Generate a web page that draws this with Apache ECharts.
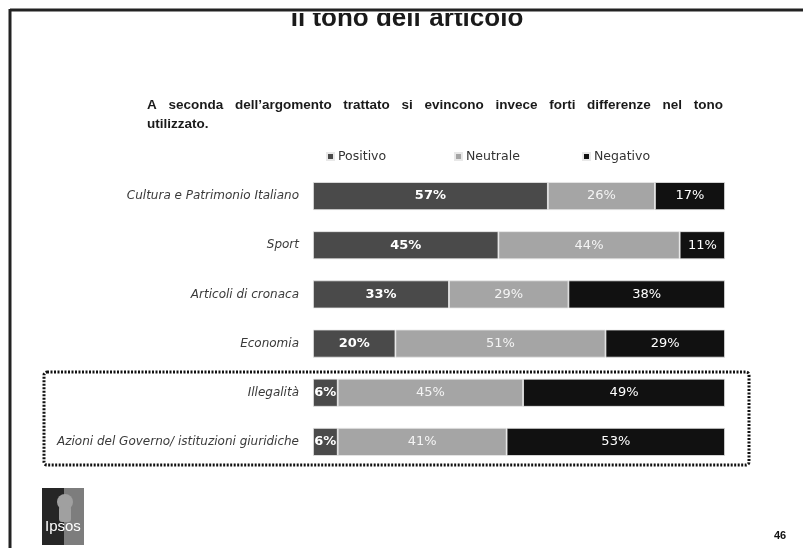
<!DOCTYPE html>
<html>
<head>
<meta charset="utf-8">
<script src="https://cdn.jsdelivr.net/npm/echarts@6/dist/echarts.min.js"></script>
<style>
  html, body { margin: 0; padding: 0; background: #fff; }
  #chart { width: 803px; height: 548px; }
</style>
</head>
<body>
<div id="chart"></div>
<script>
// Topics, listed top to bottom
const categories = [
  'Cultura e Patrimonio Italiano',
  'Sport',
  'Articoli di cronaca',
  'Economia',
  'Illegalità',
  'Azioni del Governo/ istituzioni giuridiche'
];
// Share of articles by tone (%)
const positivo = [57, 45, 33, 20, 6, 6];
const neutrale = [26, 44, 29, 51, 45, 41];
const negativo = [17, 11, 38, 29, 49, 53];

const seriesColors = ['#4a4a4a', '#a5a5a5', '#111111'];

const chart = echarts.init(document.getElementById('chart'));
const font = 'Liberation Sans, Arial, sans-serif';
const labelFont = 'DejaVu Sans, Verdana, sans-serif';

function legendAt(name, left) {
  return {
    data: [name],
    left: left,
    top: 150,
    icon: 'rect',
    itemWidth: 7,
    itemHeight: 7,
    itemGap: 4,
    padding: 0,
    textStyle: { fontFamily: labelFont, fontSize: 12.5, color: '#333', padding: [0, 0, 0, -1] }
  };
}

function barSeries(name, values, color, labelStyle) {
  return {
    name: name,
    type: 'bar',
    stack: 'tono',
    barWidth: 28,
    data: values,
    itemStyle: { color: color, borderColor: '#e8e8e8', borderWidth: 0.8 },
    label: Object.assign({
      show: true,
      position: 'inside',
      formatter: p => p.value + '%',
      fontFamily: labelFont,
      fontSize: 13,
      color: '#fff'
    }, labelStyle),
    emphasis: { disabled: true }
  };
}

// Justified first line of the lead paragraph
const leadFont = 'bold 13.5px ' + font;
const leadLine1 = 'A seconda dell’argomento trattato si evincono invece forti differenze nel tono';
const leadLine2 = 'utilizzato.';
const leadLeft = 147, leadWidth = 576;
const ctx = document.createElement('canvas').getContext('2d');
ctx.font = leadFont;
const words = leadLine1.split(' ');
const widths = words.map(w => ctx.measureText(w).width);
const gap = (leadWidth - widths.reduce((a, b) => a + b, 0)) / (words.length - 1);
const leadElems = [];
let xPos = leadLeft;
words.forEach((w, i) => {
  leadElems.push({ type: 'text', x: xPos, y: 98, style: { text: w, font: leadFont, fill: '#1a1a1a' } });
  xPos += widths[i] + gap;
});
leadElems.push({ type: 'text', x: leadLeft, y: 117, style: { text: leadLine2, font: leadFont, fill: '#1a1a1a' } });

chart.setOption({
  backgroundColor: '#fff',
  animation: false,
  legend: [
    legendAt('Positivo', 326),
    legendAt('Neutrale', 454),
    legendAt('Negativo', 582)
  ],
  grid: { left: 313, right: 78, top: 171.5, bottom: 81.5, containLabel: false },
  xAxis: {
    type: 'value', min: 0, max: 100,
    show: false
  },
  yAxis: {
    type: 'category',
    data: categories,
    inverse: true,
    axisLine: { show: false },
    axisTick: { show: false },
    axisLabel: {
      margin: 14,
      fontFamily: labelFont,
      fontStyle: 'italic',
      fontSize: 12,
      color: '#3a3a3a'
    }
  },
  series: [
    barSeries('Positivo', positivo, seriesColors[0], { fontWeight: 'bold' }),
    barSeries('Neutrale', neutrale, seriesColors[1], { color: '#f4f4f4' }),
    barSeries('Negativo', negativo, seriesColors[2], {})
  ],
  graphic: [
    // heading, its top edge hidden under the slide frame
    {
      type: 'text', x: 407, y: 6,
      style: { text: 'Il tono dell´articolo', font: 'bold 26px ' + font, fill: '#1a1a1a', align: 'center' }
    },
    { type: 'rect', shape: { x: 0, y: 0, width: 803, height: 13 }, style: { fill: '#fff' } },
    // slide frame
    { type: 'line', shape: { x1: 10, y1: 10, x2: 803, y2: 10 }, style: { stroke: '#222', lineWidth: 3 } },
    { type: 'line', shape: { x1: 10, y1: 9, x2: 10, y2: 548 }, style: { stroke: '#222', lineWidth: 3 } },
    ...leadElems,
    // highlighted group
    {
      type: 'rect', shape: { x: 44, y: 372, width: 705, height: 93, r: 3 },
      style: { fill: 'none', stroke: '#111', lineWidth: 3, lineDash: [2, 1.5] }
    },
    // Ipsos logo
    {
      type: 'group', left: 42, top: 488,
      children: [
        { type: 'rect', shape: { x: 0, y: 0, width: 42, height: 57 }, style: { fill: '#262626' } },
        { type: 'rect', shape: { x: 22, y: 0, width: 20, height: 57 }, style: { fill: '#7d7d7d' } },
        { type: 'circle', shape: { cx: 23, cy: 14, r: 8 }, style: { fill: '#a0a0a0' } },
        { type: 'rect', shape: { x: 17, y: 18, width: 12, height: 16, r: 3 }, style: { fill: '#a0a0a0' } },
        { type: 'text', x: 3, y: 31, style: { text: 'Ipsos', font: '15px ' + font, fill: '#fff' } }
      ]
    },
    // page number
    { type: 'text', left: 774, top: 530, style: { text: '46', font: 'bold 11px ' + font, fill: '#111' } }
  ]
});
</script>
</body>
</html>
